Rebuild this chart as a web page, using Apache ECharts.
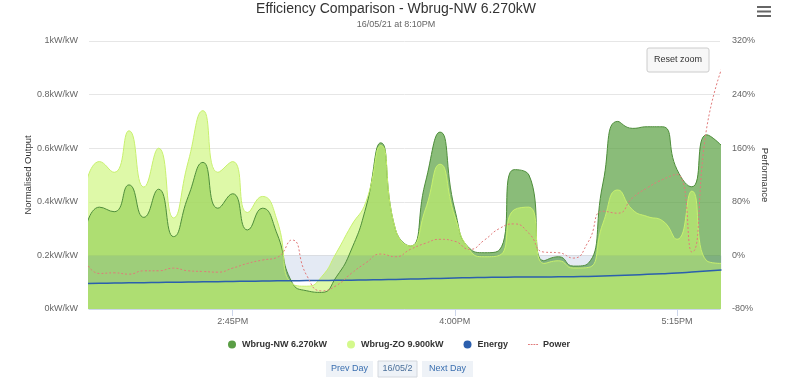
<!DOCTYPE html>
<html><head><meta charset="utf-8">
<script src="https://cdn.jsdelivr.net/npm/echarts@6/dist/echarts.min.js"></script>
<style>html,body{margin:0;padding:0;background:#fff}#c{width:800px;height:383px}</style>
</head><body><div id="c"></div>
<script>
// 5-minute samples (local time)
const times = ['13:55','14:00','14:05','14:10','14:15','14:20','14:25','14:30','14:35','14:40',
  '14:45','14:50','14:55','15:00','15:05','15:10','15:15','15:20','15:25','15:30',
  '15:35','15:40','15:45','15:50','15:55','16:00','16:05','16:10','16:15','16:20',
  '16:25','16:30','16:35','16:40','16:45','16:50','16:55','17:00','17:05','17:10',
  '17:15','17:20','17:25','17:30'];
// Normalised output, kW/kW
const nwValues = [0.28,0.38,0.363,0.463,0.342,0.447,0.27,0.42,0.547,0.376,
  0.43,0.295,0.376,0.28,0.10,0.068,0.062,0.12,0.22,0.38,
  0.62,0.295,0.235,0.47,0.66,0.37,0.226,0.21,0.22,0.52,
  0.50,0.18,0.195,0.16,0.17,0.47,0.70,0.674,0.68,0.68,
  0.52,0.456,0.65,0.61];
const zoValues = [0.44,0.55,0.51,0.665,0.455,0.60,0.34,0.55,0.74,0.51,
  0.55,0.36,0.42,0.33,0.095,0.085,0.12,0.21,0.31,0.40,
  0.61,0.295,0.235,0.37,0.54,0.345,0.22,0.195,0.20,0.37,
  0.38,0.17,0.18,0.153,0.155,0.32,0.444,0.37,0.345,0.33,
  0.26,0.44,0.18,0.17];
// Performance axis, %
const energyValues = [-42,-41.6,-41.3,-41,-40.7,-40.4,-40.1,-39.8,-39.5,-39.2,
  -38.9,-38.6,-38.3,-38,-37.8,-37.6,-37.4,-37.2,-37,-36.6,
  -36.2,-35.8,-35.3,-34.8,-34.3,-33.8,-33.3,-32.9,-32.6,-32.4,
  -32.2,-32.1,-32,-31.8,-31.4,-30.8,-30,-29.2,-28.3,-27.3,
  -26.2,-24.8,-23.3,-21.8];
const powerValues = [-5,-27,-26,-28,-23,-23,-19,-23,-24,-25,
  -19,-12,-7,-3,23,-30,-53,-45,-27,-11,
  2,-2,9,18,24,21,9,23,40,47,
  33,5,4,-4,20,66,63,86,101,113,
  121,5,190,278];
const xTickTimes = ['14:45','16:00','17:15'];
const xRange = ['13:56:30','17:29:30'];
const leftMin = 0, leftMax = 1, leftStep = 0.2;
const rightMin = -80, rightMax = 320, rightStep = 80;

function toMin(s){const p=s.split(':').map(Number);return p[0]*60+p[1]+(p[2]||0)/60;}
function fmtTime(m){let h=Math.floor(m/60),mm=Math.round(m%60);const ap=h>=12?'PM':'AM';h=h%12;if(h===0)h=12;return h+':'+(mm<10?'0':'')+mm+ap;}
const xs = times.map(toMin);
const pairs = vals => xs.map((x,i)=>[x,vals[i]]);
const F = 'Liberation Sans, Arial, sans-serif';
const tickVals = xTickTimes.map(toMin);
const SM = 0.55;

const chart = echarts.init(document.getElementById('c'), null, {renderer:'canvas'});
chart.setOption({
  animation:false,
  textStyle:{fontFamily:F},
  grid:{left:89,right:80,top:41,bottom:74},
  legend:{top:335,left:223,itemGap:20,itemWidth:10,itemHeight:8,
    textStyle:{fontSize:9,fontWeight:'bold',color:'#333',fontFamily:F},
    data:[{name:'Wbrug-NW 6.270kW',icon:'circle'},{name:'Wbrug-ZO 9.900kW',icon:'circle'},{name:'Energy',icon:'circle'},
      {name:'Power',icon:'path://M0,0H2V1H0Z M3,0H5V1H3Z M6,0H8V1H6Z M9,0H11V1H9Z',itemStyle:{color:'#e07a7a'}}]},
  xAxis:{type:'value',min:toMin(xRange[0]),max:toMin(xRange[1]),
    axisLine:{lineStyle:{color:'#ccd6eb'}},
    axisTick:{customValues:tickVals,length:7,lineStyle:{color:'#ccd6eb'}},
    axisLabel:{customValues:tickVals,formatter:v=>fmtTime(v),fontSize:9,color:'#666',margin:8},
    splitLine:{show:false}},
  yAxis:[
    {type:'value',min:leftMin,max:leftMax,interval:leftStep,position:'left',
     axisLabel:{formatter:v=>(+v.toFixed(1))+'kW/kW',fontSize:9,color:'#666',margin:11},
     axisLine:{show:false},axisTick:{show:false},
     splitLine:{lineStyle:{color:'#e6e6e6'}},
     name:'Normalised Output',nameLocation:'middle',nameGap:56,nameMoveOverlap:false,
     nameTextStyle:{fontSize:9.5,color:'#333'}},
    {type:'value',min:rightMin,max:rightMax,interval:rightStep,position:'right',
     axisLabel:{formatter:'{value}%',fontSize:9,color:'#666',margin:12},
     axisLine:{show:false},axisTick:{show:false},splitLine:{show:false},
     name:'Performance',nameLocation:'middle',nameGap:40,nameRotate:-90,nameMoveOverlap:false,
     nameTextStyle:{fontSize:9.5,color:'#333'}}
  ],
  series:[
    {name:'Wbrug-NW 6.270kW',type:'line',data:pairs(nwValues),smooth:SM,symbol:'none',
     itemStyle:{color:'#5a9e45'},lineStyle:{color:'#4e8d3b',width:1},
     areaStyle:{color:'#58a040',opacity:0.7}},
    {name:'Wbrug-ZO 9.900kW',type:'line',data:pairs(zoValues),smooth:SM,symbol:'none',
     itemStyle:{color:'#d4f98c'},lineStyle:{color:'#c8f06e',width:1},
     areaStyle:{color:'#c8f56e',opacity:0.6}},
    {name:'Energy',type:'line',yAxisIndex:1,data:pairs(energyValues),smooth:SM,symbol:'none',
     itemStyle:{color:'#2b5fad'},lineStyle:{color:'#2b5fad',width:1.5},
     areaStyle:{color:'#2f5fa8',opacity:0.13}},
    {name:'Power',type:'line',yAxisIndex:1,data:pairs(powerValues),smooth:SM,symbol:'none',
     itemStyle:{color:'#e07a7a'},lineStyle:{color:'#e07a7a',width:1,type:[2,2]}}
  ],
  graphic:[
    {type:'text',x:396,y:9,style:{text:'Efficiency Comparison - Wbrug-NW 6.270kW',font:'14px '+F,fill:'#333',textAlign:'center',textVerticalAlign:'middle'}},
    {type:'text',x:396,y:25,style:{text:'16/05/21 at 8:10PM',font:'9px '+F,fill:'#666',textAlign:'center',textVerticalAlign:'middle'}},
    {type:'rect',shape:{x:757,y:6,width:14,height:2},style:{fill:'#666'}},
    {type:'rect',shape:{x:757,y:10.5,width:14,height:2},style:{fill:'#666'}},
    {type:'rect',shape:{x:757,y:15,width:14,height:2},style:{fill:'#666'}},
    {type:'rect',shape:{x:647,y:48,width:62,height:24,r:2},style:{fill:'#f7f7f7',stroke:'#cccccc',lineWidth:1},z:100},
    {type:'text',x:678,y:60,style:{text:'Reset zoom',font:'9px '+F,fill:'#333',textAlign:'center',textVerticalAlign:'middle'},z:101},
    {type:'rect',shape:{x:326,y:361,width:47,height:16},style:{fill:'#eef2f7'}},
    {type:'text',x:349.5,y:369,style:{text:'Prev Day',font:'9px '+F,fill:'#3a6fb0',textAlign:'center',textVerticalAlign:'middle'}},
    {type:'rect',shape:{x:378,y:361,width:39,height:16},style:{fill:'#eef2f7',stroke:'#d4d8de',lineWidth:1}},
    {type:'text',x:397.5,y:369,style:{text:'16/05/2',font:'9px '+F,fill:'#4a6f9a',textAlign:'center',textVerticalAlign:'middle'}},
    {type:'rect',shape:{x:422,y:361,width:51,height:16},style:{fill:'#eef2f7'}},
    {type:'text',x:447.5,y:369,style:{text:'Next Day',font:'9px '+F,fill:'#3a6fb0',textAlign:'center',textVerticalAlign:'middle'}}
  ]
});
</script></body></html>
